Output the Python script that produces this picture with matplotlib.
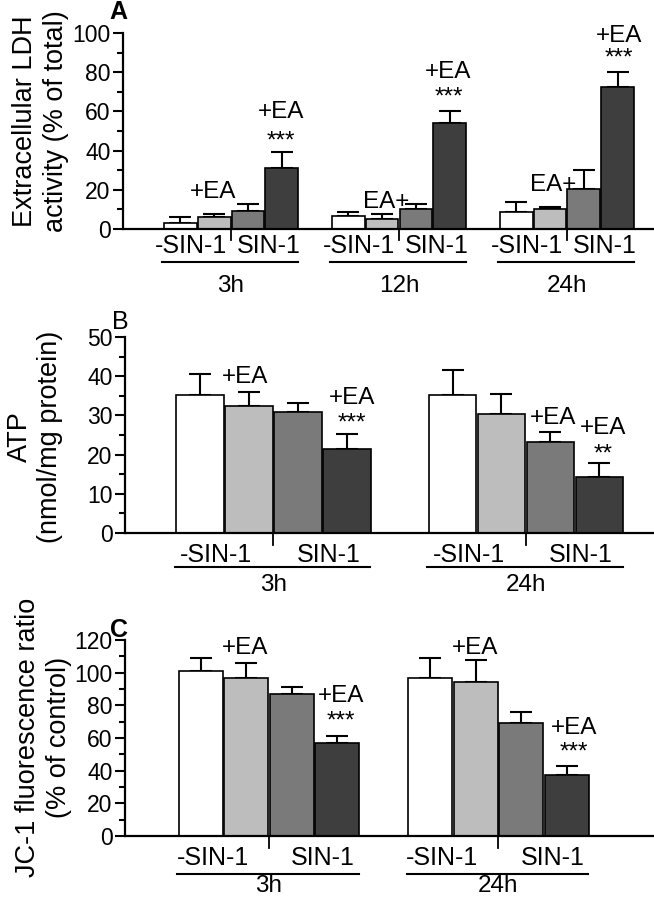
import matplotlib
matplotlib.use('Agg')
import matplotlib.pyplot as plt
from matplotlib.ticker import MultipleLocator

plt.rcParams['font.family'] = ['Liberation Sans', 'DejaVu Sans']

# bar fills: control, +EA, SIN-1, SIN-1 + EA
bar_colors = ['white', '#bdbdbd', '#7a7a7a', '#3e3e3e']
sub_labels = ['-SIN-1', 'SIN-1']

# panel A - extracellular LDH (% of total)
ldh_groups = ['3h', '12h', '24h']
ldh_mean = [[3, 6, 9, 31], [6.5, 5, 10, 54], [8.5, 10, 20.5, 72.5]]
ldh_err = [[3, 1.5, 4, 8.5], [2, 2.5, 3, 6], [5.5, 1, 9.5, 7.5]]

# panel B - ATP (nmol/mg protein)
atp_groups = ['3h', '24h']
atp_mean = [[35.2, 32.4, 30.9, 21.4], [35.2, 30.4, 23.2, 14.3]]
atp_err = [[5.3, 3.6, 2.3, 3.9], [6.4, 5.1, 2.6, 3.6]]

# panel C - JC-1 ratio (% of control)
jc1_groups = ['3h', '24h']
jc1_mean = [[101, 96.7, 87, 57], [96.7, 94.5, 69, 37.5]]
jc1_err = [[8, 9.3, 4.5, 4], [12.3, 13.5, 7, 5.5]]

W, H = 654, 899
fig = plt.figure(figsize=(W / 100, H / 100), dpi=100)


def draw_panel(rect, groups, means, errs, width, xlim, ylim, major, minor, ypos, sub_off):
    ax = fig.add_axes(rect)
    tr = ax.get_xaxis_transform()
    sub_y, div_y, line_y, grp_y = ypos
    for g, (m, e) in enumerate(zip(means, errs)):
        xs = [g + (i - 1.5) * width for i in range(4)]
        ax.bar(xs, m, width=width * 0.97, color=bar_colors, edgecolor='black',
               linewidth=1.2, zorder=2)
        ax.errorbar(xs, m, yerr=[[0] * 4, e], fmt='none', ecolor='black',
                    elinewidth=1.5, capsize=8, capthick=1.5, zorder=1)
        ax.text(g + sub_off[0], sub_y, sub_labels[0], transform=tr, ha='center',
                va='baseline', fontsize=18)
        ax.text(g + sub_off[1], sub_y, sub_labels[1], transform=tr, ha='center',
                va='baseline', fontsize=18)
        ax.plot([g, g], [0, div_y], transform=tr, color='black', lw=1.3, clip_on=False)
        ax.plot([g - 2.02 * width, g + 1.98 * width], [line_y, line_y], transform=tr,
                color='black', lw=1.5, clip_on=False)
        ax.text(g, grp_y, groups[g], transform=tr, ha='center', va='baseline',
                fontsize=17.5)
    ax.set_xlim(*xlim)
    ax.set_ylim(*ylim)
    ax.set_xticks([])
    ax.yaxis.set_major_locator(MultipleLocator(major))
    ax.yaxis.set_minor_locator(MultipleLocator(minor))
    ax.tick_params(axis='y', which='major', direction='out', length=7, width=1.5,
                   labelsize=16.5, pad=2)
    ax.tick_params(axis='y', which='minor', direction='out', length=4, width=1.5)
    for s in ['top', 'right']:
        ax.spines[s].set_visible(False)
    for s in ['left', 'bottom']:
        ax.spines[s].set_linewidth(1.6)
    return ax


def note(ax, x, y, s, size=17.5):
    ax.text(x, y, s, ha='center', va='baseline', fontsize=size, clip_on=False)


# A
axA = draw_panel([123 / W, 1 - 229 / H, (W - 123) / W, 196 / H], ldh_groups, ldh_mean,
                 ldh_err, 0.202, (-0.643, 2.518), (0, 100), 20, 10,
                 (-0.122, -0.056, -0.168, -0.321), (-0.237, 0.226))
note(axA, -0.107, 15.8, '+EA')
note(axA, 0.297, 56.6, '+EA')
note(axA, 0.297, 41.8, '***')
note(axA, 1 - 0.074, 10.7, 'EA+')
note(axA, 1.294, 77, '+EA')
note(axA, 1.294, 63.8, '***')
note(axA, 2 - 0.083, 19.4, 'EA+')
note(axA, 2.309, 95.4, '+EA')
note(axA, 2.309, 83.7, '***')

# B
axB = draw_panel([125 / W, 1 - 533 / H, (W - 125) / W, 196 / H], atp_groups, atp_mean,
                 atp_err, 0.194, (-0.588, 1.507), (0, 50), 10, 5,
                 (-0.148, -0.061, -0.173, -0.296), (-0.226, 0.218))
note(axB, -0.113, 38.3, '+EA')
note(axB, 0.311, 32.9, '+EA')
note(axB, 0.311, 26.3, '***')
note(axB, 1.107, 27.8, '+EA')
note(axB, 1.305, 25.3, '+EA')
note(axB, 1.305, 18.6, '**')

# C
axC = draw_panel([125 / W, 1 - 836 / H, (W - 125) / W, 196 / H], jc1_groups, jc1_mean,
                 jc1_err, 0.198, (-0.627, 1.678), (0, 120), 20, 10,
                 (-0.148, -0.061, -0.194, -0.287), (-0.244, 0.235))
note(axC, -0.105, 111.5, '+EA')
note(axC, 0.314, 82, '+EA')
note(axC, 0.314, 66.7, '***')
note(axC, 1 - 0.102, 111.5, '+EA')
note(axC, 1.331, 62.5, '+EA')
note(axC, 1.331, 47.2, '***')

# y labels
ylabels = [('Extracellular LDH\nactivity (% of total)', 41, 121),
           ('ATP\n(nmol/mg protein)', 35, 437),
           ('JC-1 fluorescence ratio\n(% of control)', 44, 737)]
for txt, px, py in ylabels:
    fig.text(px / W, 1 - py / H, txt, rotation=90, ha='center', va='center',
             multialignment='center', fontsize=19.5, linespacing=1.25)

# panel letters
fig.text(118 / W, 1 - 12 / H, 'A', ha='center', va='center', fontsize=18, fontweight='bold')
fig.text(120 / W, 1 - 322 / H, 'B', ha='center', va='center', fontsize=18)
fig.text(119 / W, 1 - 630 / H, 'C', ha='center', va='center', fontsize=18, fontweight='bold')

fig.savefig('out.png', dpi=100)
